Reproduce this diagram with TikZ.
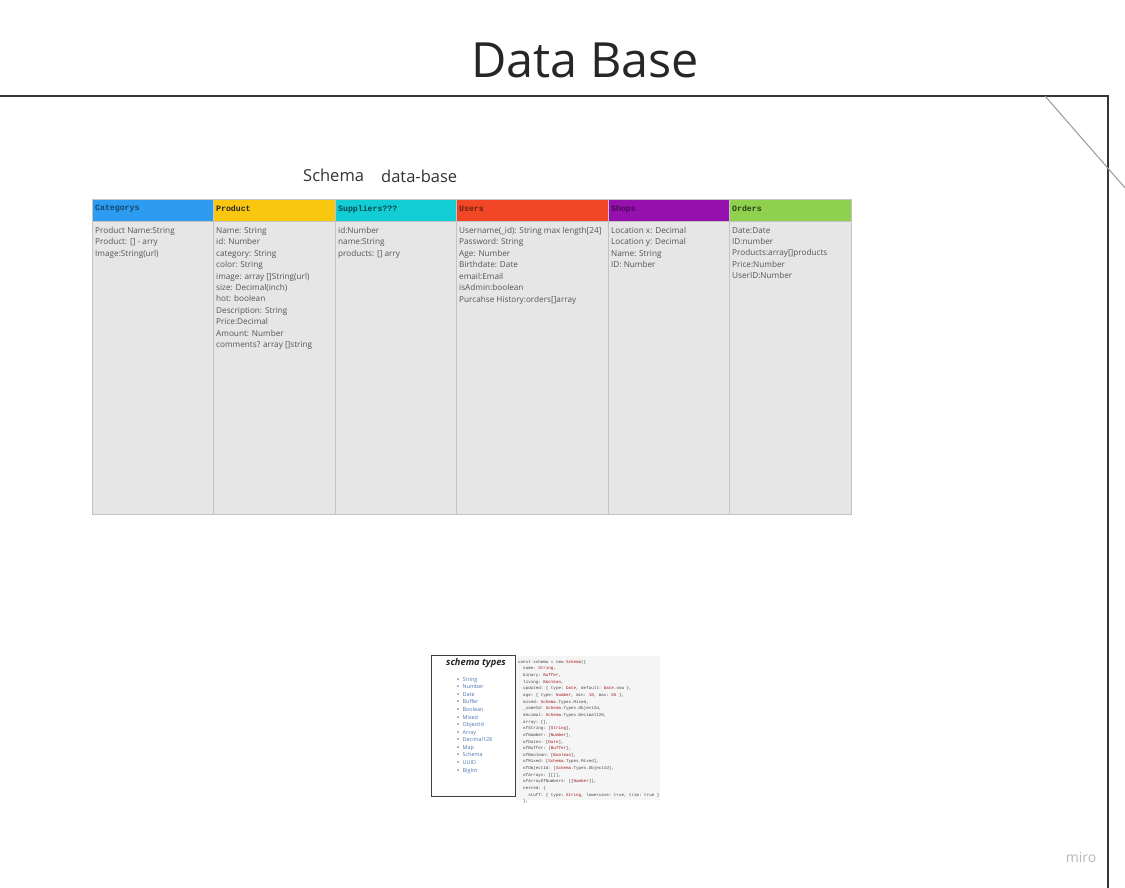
\documentclass[tikz,border=0pt]{standalone}
\usepackage{fontspec}
\setmainfont{Open Sans}
\setmonofont{Liberation Mono}
\definecolor{framec}{HTML}{363636}
\definecolor{bodyc}{HTML}{E6E6E6}
\definecolor{bordc}{HTML}{C4C4C4}
\definecolor{txtc}{HTML}{555555}
\definecolor{cblue}{HTML}{2D9BF0}
\definecolor{cyellow}{HTML}{FAC710}
\definecolor{ccyan}{HTML}{12CDD4}
\definecolor{cred}{HTML}{F24726}
\definecolor{cpurple}{HTML}{9510AC}
\definecolor{cgreen}{HTML}{8FD14F}
\definecolor{linkc}{HTML}{4A78B0}
\definecolor{codebg}{HTML}{F5F5F5}
\definecolor{codered}{HTML}{A31515}
\definecolor{codetxt}{HTML}{444444}
\newcommand{\kw}[1]{\textcolor{codered}{#1}}
\begin{document}
\begin{tikzpicture}[x=1pt,y=-1pt,
  hdr/.style={draw=bordc,line width=0.5pt,minimum height=22pt,anchor=north west,inner sep=0pt},
  hdrtext/.style={anchor=west,inner sep=0pt,font=\ttfamily\bfseries\fontsize{8.2}{9}\selectfont},
  colbody/.style={draw=bordc,fill=bodyc,line width=0.7pt,anchor=north west,inner sep=0pt,minimum height=293pt},
  coltext/.style={anchor=north west,align=left,inner sep=0pt,text=txtc,font=\fontsize{8.2}{11.45}\selectfont},
  frame/.style={draw=framec,line width=2.7pt},
]
\useasboundingbox (0,0) rectangle (1125,888);
\fill[white] (0,0) rectangle (1125,888);

% title
\node[font=\fontsize{48.5}{52}\selectfont,text=black!85] (title) at (585,60) {Data Base};

% frame
\coordinate (fa) at (0,96);
\coordinate (fb) at (1108,96);
\coordinate (fc) at (1108,888);
\draw[frame] (fa) -- (fb) -- (fc);
\coordinate (da) at (1045,96);
\coordinate (db) at (1126,189);
\draw[gray!80,line width=1pt] (da) -- (db);

% schema label
\node[font=\fontsize{16.5}{18}\selectfont,text=black!80,anchor=west,inner sep=0pt] (schemalbl) at (303,175) {Schema};
\node[font=\fontsize{16.5}{18}\selectfont,text=black!80,anchor=west,inner sep=0pt] (dblbl) at (381,176) {data-base};

% column bodies
\node[colbody,minimum width=121pt] (b1) at (92,221) {};
\node[colbody,minimum width=122pt] (b2) at (213,221) {};
\node[colbody,minimum width=121pt] (b3) at (335,221) {};
\node[colbody,minimum width=152pt] (b4) at (456,221) {};
\node[colbody,minimum width=121pt] (b5) at (608,221) {};
\node[colbody,minimum width=122pt] (b6) at (729,221) {};

% headers
\node[hdr,fill=cblue,minimum width=121pt] (h1) at (92,199) {};
\node[hdrtext,text=cblue!45!black] (h1t) at (95,209) {Categorys};
\node[hdr,fill=cyellow,minimum width=122pt] (h2) at (213,199) {};
\node[hdrtext,text=black!85] (h2t) at (216,209) {Product};
\node[hdr,fill=ccyan,minimum width=121pt] (h3) at (335,199) {};
\node[hdrtext,text=ccyan!35!black] (h3t) at (338,209) {Suppliers???};
\node[hdr,fill=cred,minimum width=152pt] (h4) at (456,199) {};
\node[hdrtext,text=cred!45!black] (h4t) at (459,209) {Users};
\node[hdr,fill=cpurple,minimum width=121pt] (h5) at (608,199) {};
\node[hdrtext,text=cpurple!50!black] (h5t) at (611,209) {Shops};
\node[hdr,fill=cgreen,minimum width=122pt] (h6) at (729,199) {};
\node[hdrtext,text=cgreen!30!black] (h6t) at (732,209) {Orders};

% column texts
\node[coltext] (t1) at (95,227) {Product Name:String\\Product: [] - arry\\Image:String(url)};
\node[coltext] (t2) at (216,227) {Name: String\\id: Number\\category: String\\color: String\\image: array []String(url)\\size: Decimal(inch)\\hot: boolean\\Description: String\\Price:Decimal\\Amount: Number\\comments? array []string};
\node[coltext] (t3) at (338,227) {id:Number\\name:String\\products: [] arry};
\node[coltext] (t4) at (459,227) {Username(\_id): String max length[24]\\Password: String\\Age: Number\\Birthdate: Date\\email:Email\\isAdmin:boolean\\Purcahse History:orders[]array};
\node[coltext] (t5) at (611,227) {Location x: Decimal\\Location y: Decimal\\Name: String\\ID: Number};
\node[coltext] (t6) at (732,227) {Date:Date\\ID:number\\Products:array[]products\\Price:Number\\UserID:Number};

% schema types box
\node[draw=black!75,line width=1pt,anchor=north west,minimum width=84pt,minimum height=141pt,inner sep=0pt] (stbox) at (431,655) {};
\node[font=\bfseries\itshape\fontsize{9.3}{10}\selectfont,text=black!85,inner sep=0pt] (sttitle) at (476,663) {schema types};
\node[anchor=north west,align=left,inner sep=0pt,text=linkc,font=\fontsize{5.4}{7.58}\selectfont] (stlist) at (457,677)
{\textcolor{black}{\textbullet}\hspace{3.5pt}String\\
\textcolor{black}{\textbullet}\hspace{3.5pt}Number\\
\textcolor{black}{\textbullet}\hspace{3.5pt}Date\\
\textcolor{black}{\textbullet}\hspace{3.5pt}Buffer\\
\textcolor{black}{\textbullet}\hspace{3.5pt}Boolean\\
\textcolor{black}{\textbullet}\hspace{3.5pt}Mixed\\
\textcolor{black}{\textbullet}\hspace{3.5pt}ObjectId\\
\textcolor{black}{\textbullet}\hspace{3.5pt}Array\\
\textcolor{black}{\textbullet}\hspace{3.5pt}Decimal128\\
\textcolor{black}{\textbullet}\hspace{3.5pt}Map\\
\textcolor{black}{\textbullet}\hspace{3.5pt}Schema\\
\textcolor{black}{\textbullet}\hspace{3.5pt}UUID\\
\textcolor{black}{\textbullet}\hspace{3.5pt}BigInt};

% code box
\node[fill=codebg,anchor=north west,minimum width=144pt,minimum height=144pt,inner sep=0pt] (codebox) at (516,656) {};
\node[anchor=north west,align=left,inner sep=0pt,text=codetxt,font=\ttfamily\fontsize{4.2}{6.65}\selectfont] (code) at (518,660)
{const schema = new \kw{Schema}(\{\\
\ \ name: \kw{String},\\
\ \ binary: \kw{Buffer},\\
\ \ living: \kw{Boolean},\\
\ \ updated: \{ type: \kw{Date}, default: \kw{Date}.now \},\\
\ \ age: \{ type: \kw{Number}, min: \kw{18}, max: \kw{65} \},\\
\ \ mixed: \kw{Schema}.Types.Mixed,\\
\ \ \_someId: \kw{Schema}.Types.ObjectId,\\
\ \ decimal: \kw{Schema}.Types.Decimal128,\\
\ \ array: [],\\
\ \ ofString: [\kw{String}],\\
\ \ ofNumber: [\kw{Number}],\\
\ \ ofDates: [\kw{Date}],\\
\ \ ofBuffer: [\kw{Buffer}],\\
\ \ ofBoolean: [\kw{Boolean}],\\
\ \ ofMixed: [\kw{Schema}.Types.Mixed],\\
\ \ ofObjectId: [\kw{Schema}.Types.ObjectId],\\
\ \ ofArrays: [[]],\\
\ \ ofArrayOfNumbers: [[\kw{Number}]],\\
\ \ nested: \{\\
\ \ \ \ stuff: \{ type: \kw{String}, lowercase: true, trim: true \}\\
\ \ \},};

% watermark
\node[font=\fontsize{14}{16}\selectfont,text=black!28,inner sep=0pt] (miro) at (1081,857) {miro};
\end{tikzpicture}
\end{document}
